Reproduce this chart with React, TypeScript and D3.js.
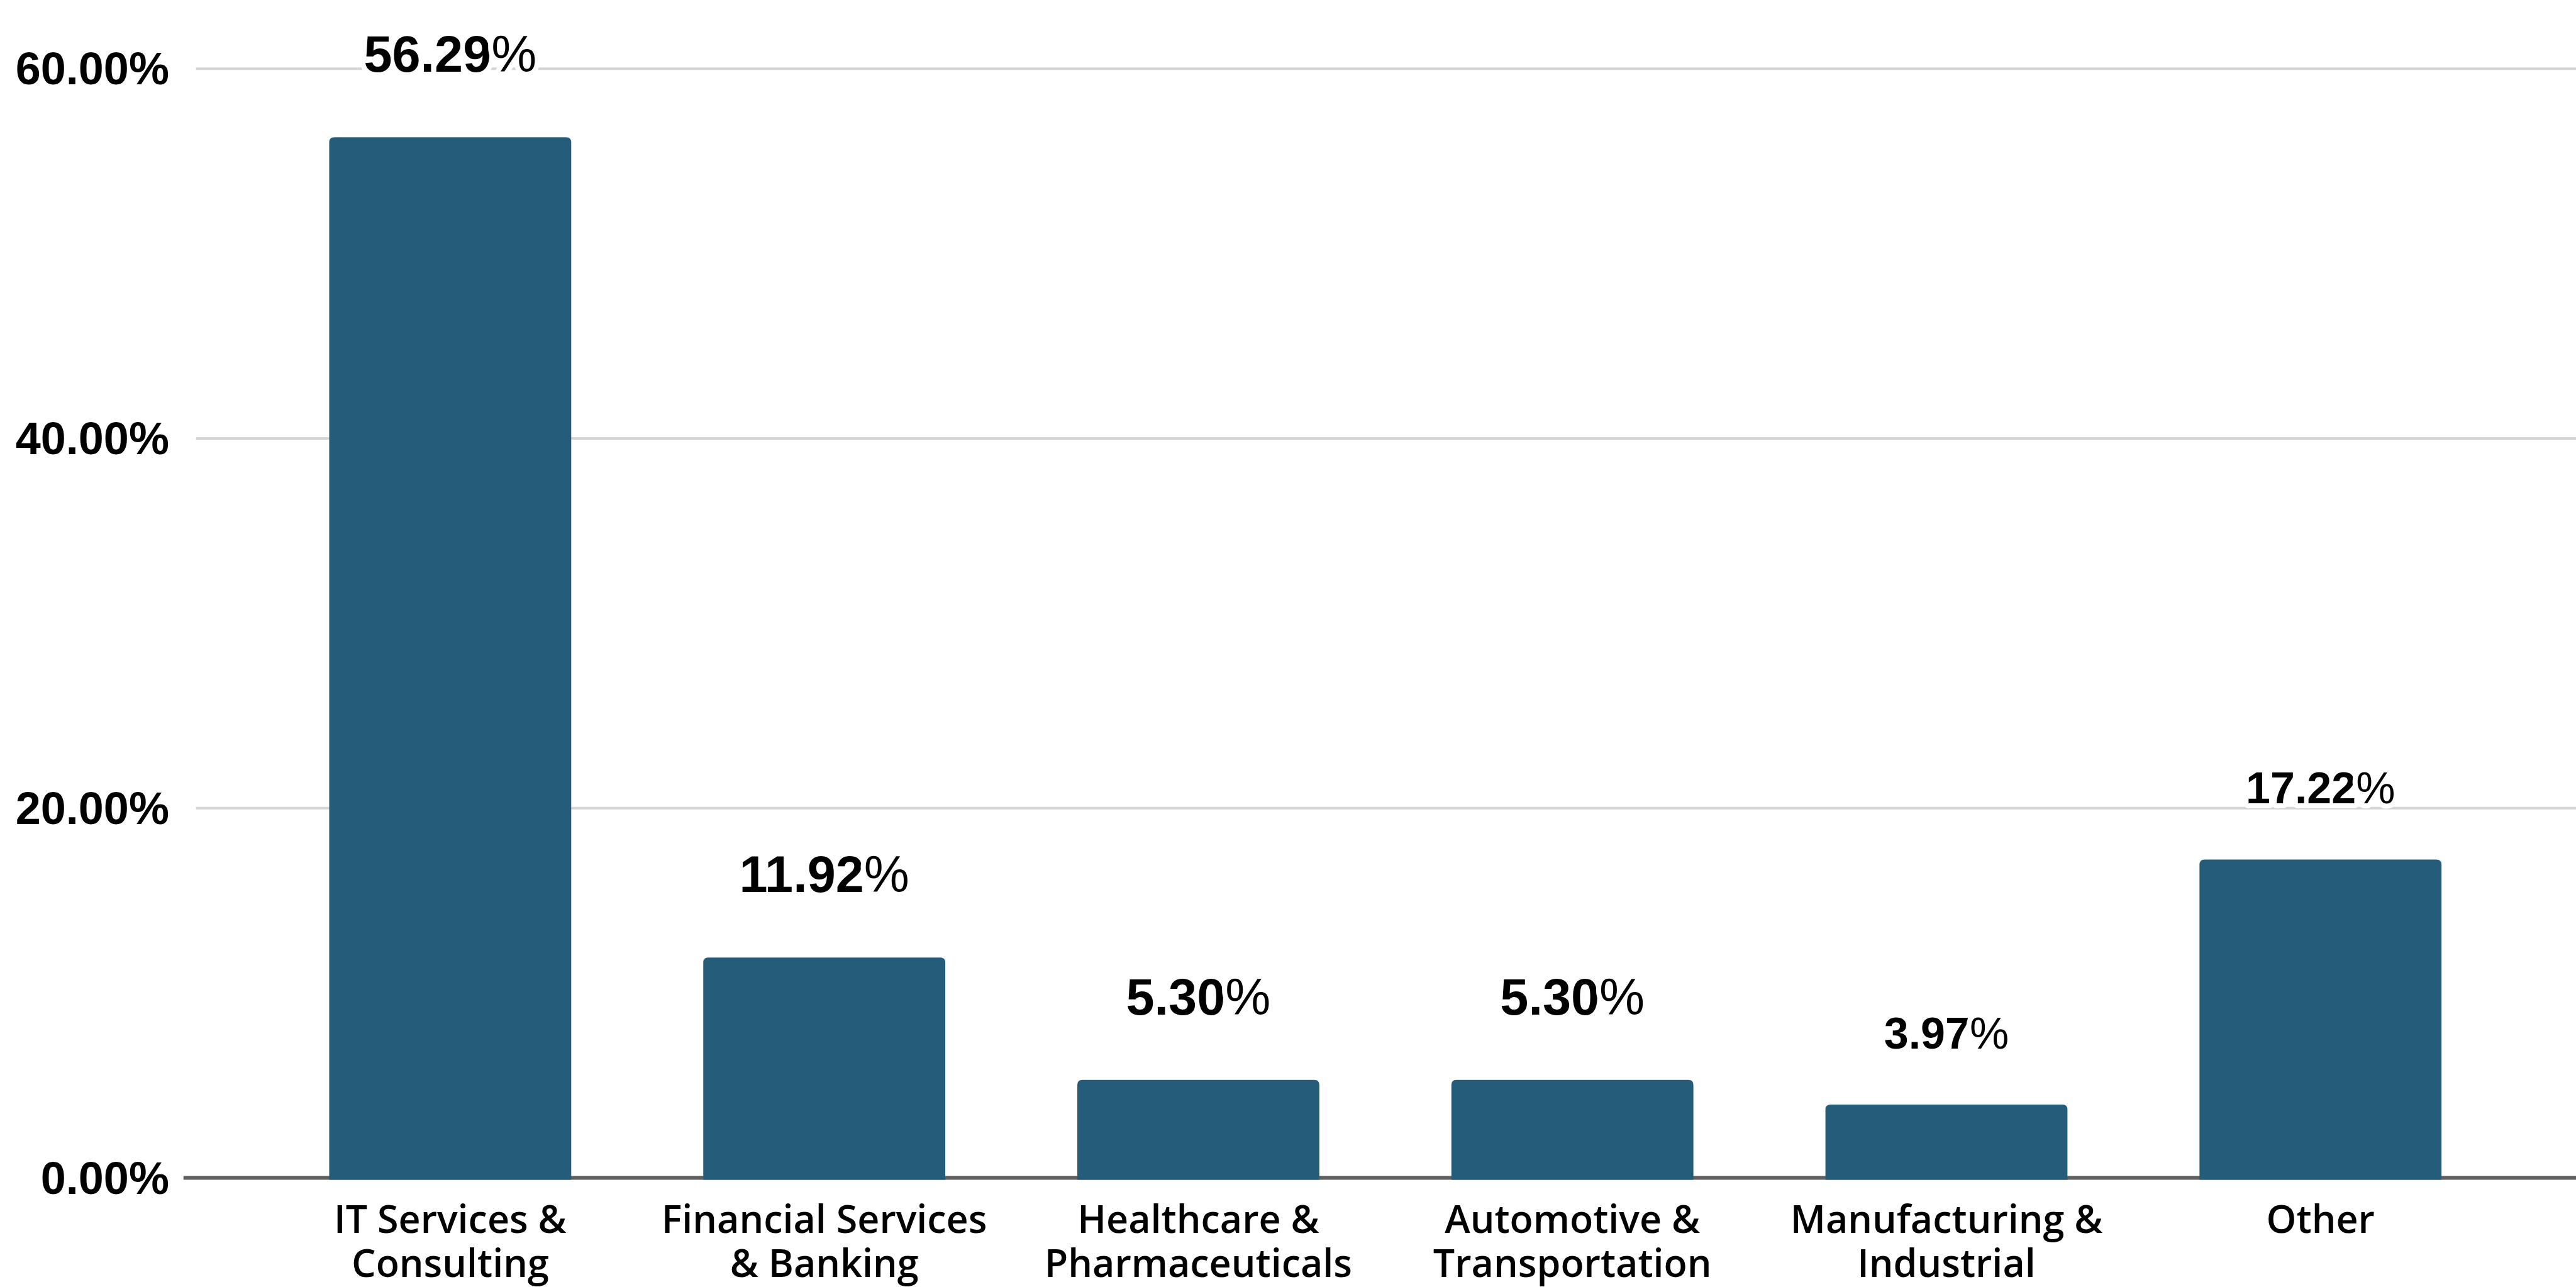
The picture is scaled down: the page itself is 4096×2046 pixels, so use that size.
import React from "react";
import * as d3 from "d3";

const categories = [
  "IT Services & Consulting",
  "Financial Services & Banking",
  "Healthcare & Pharmaceuticals",
  "Automotive & Transportation",
  "Manufacturing & Industrial",
  "Other",
];
const categoryLines = [
  ["IT Services &", "Consulting"],
  ["Financial Services", "& Banking"],
  ["Healthcare &", "Pharmaceuticals"],
  ["Automotive &", "Transportation"],
  ["Manufacturing &", "Industrial"],
  ["Other"],
];
const shares = [56.29, 11.92, 5.3, 5.3, 3.97, 17.22];
const yTicks = [0, 20, 40, 60];

const W = 4096;
const H = 2046;
const S = 0.764;

const BAR = "#255c79";
const GRID = "#d4d4d4";
const AXIS = "#5f5f5f";
const SMALL_LABELS = new Set([4, 5]);

export default function App() {
  React.useEffect(() => {
    document.body.style.margin = "0";
  }, []);

  const x = d3
    .scaleBand<string>()
    .domain(categories)
    .range([547.75 * S, 5218.75 * S])
    .paddingInner(0.353)
    .paddingOuter(0.1765);
  const y = d3.scaleLinear().domain([0, 60]).range([2451 * S, 143 * S]);

  const gridX0 = 408 * S;
  const gridX1 = W;
  const r = 8;
  const axisW = 6;

  const barPath = (x0: number, x1: number, yt: number, yb: number) => {
    const p = d3.path();
    p.moveTo(x0, yb);
    p.lineTo(x0, yt + r);
    p.quadraticCurveTo(x0, yt, x0 + r, yt);
    p.lineTo(x1 - r, yt);
    p.quadraticCurveTo(x1, yt, x1, yt + r);
    p.lineTo(x1, yb);
    p.closePath();
    return p.toString();
  };

  const fmt = (v: number) => v.toFixed(2);

  return (
    <svg
      width={W}
      height={H}
      style={{ position: "fixed", left: 0, top: 0, background: "#fff" }}
      fontFamily="'Liberation Sans', Arial, sans-serif"
    >
      <rect x={0} y={0} width={W} height={H} fill="#fff" />
      {yTicks
        .filter((t) => t !== 0)
        .map((t) => (
          <line
            key={"g" + t}
            x1={gridX0}
            x2={gridX1}
            y1={y(t)}
            y2={y(t)}
            stroke={GRID}
            strokeWidth={4}
          />
        ))}
      <line
        x1={gridX0 - 20}
        x2={gridX1}
        y1={y(0)}
        y2={y(0)}
        stroke={AXIS}
        strokeWidth={axisW}
      />
      {yTicks.map((t) => (
        <text
          key={"t" + t}
          x={352 * S}
          y={y(t) + 25}
          textAnchor="end"
          fontSize={72}
          fontWeight="bold"
          fill="#000"
        >
          {fmt(t) + "%"}
        </text>
      ))}
      {shares.map((v, i) => {
        const c = categories[i];
        const x0 = x(c)!;
        const x1 = x0 + x.bandwidth();
        return (
          <path
            key={"b" + i}
            d={barPath(x0, x1, y(v), y(0) + axisW / 2)}
            fill={BAR}
          />
        );
      })}
      {shares.map((v, i) => {
        const c = categories[i];
        const cx = x(c)! + x.bandwidth() / 2;
        const small = SMALL_LABELS.has(i);
        const fs = small ? 70 : 81;
        const gap = small ? 89 : 104;
        return (
          <text
            key={"v" + i}
            x={cx}
            y={y(v) - gap}
            textAnchor="middle"
            fontSize={fs}
            fontWeight="bold"
            fill="#000"
            stroke="#fff"
            strokeWidth={16}
            paintOrder="stroke"
            strokeLinejoin="round"
          >
            {fmt(v)}
            <tspan fontWeight="normal">%</tspan>
          </text>
        );
      })}
      {categoryLines.map((lines, i) => {
        const cx = x(categories[i])! + x.bandwidth() / 2;
        return (
          <text
            key={"c" + i}
            x={cx}
            textAnchor="middle"
            fontFamily="'Open Sans', sans-serif"
            fontWeight={600}
            fontSize={61}
            fill="#000"
          >
            {lines.map((l, j) => (
              <tspan key={j} x={cx} y={2566 * S + j * 70}>
                {l}
              </tspan>
            ))}
          </text>
        );
      })}
    </svg>
  );
}
